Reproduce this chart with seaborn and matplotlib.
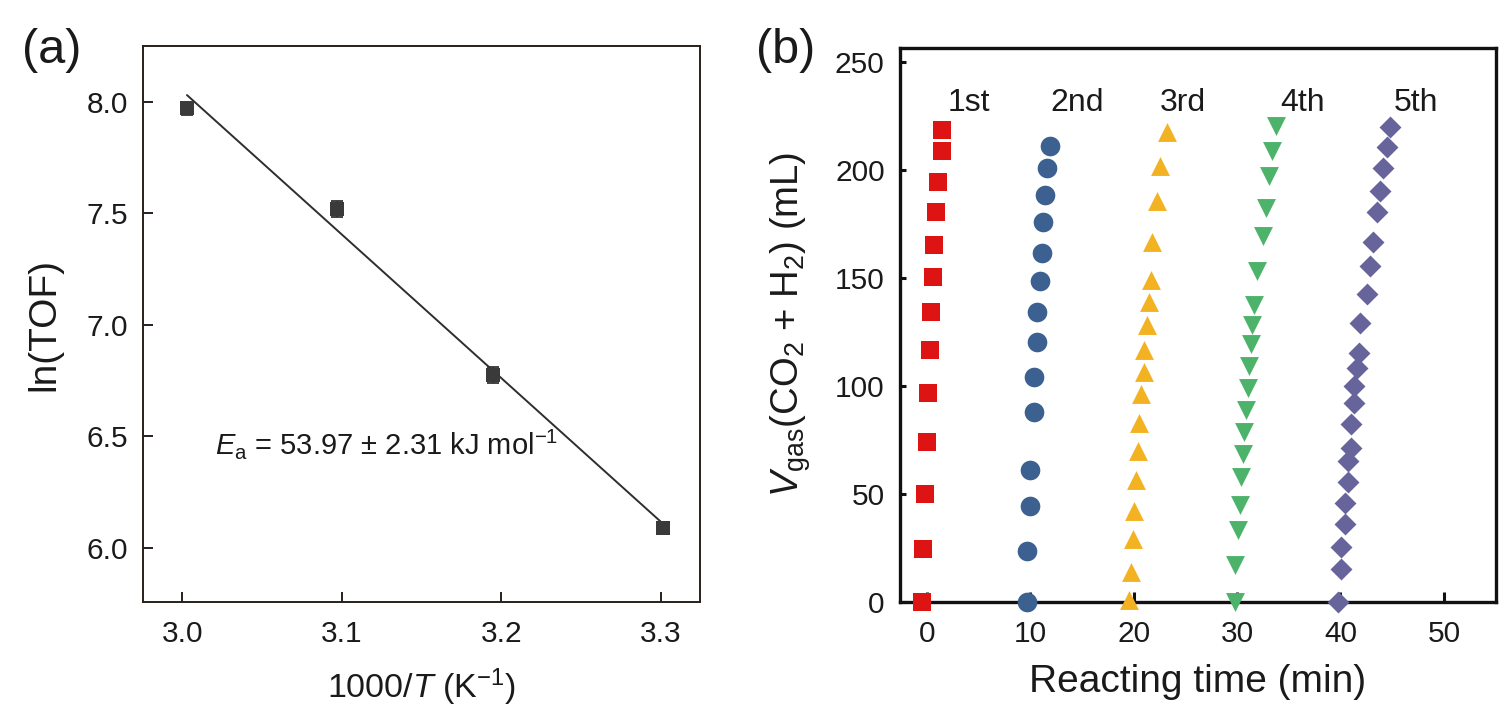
import numpy as np
import pandas as pd
import matplotlib
matplotlib.use("Agg")
import matplotlib.pyplot as plt
import seaborn as sns

# ---------------- data: panel (a) ----------------
inv_T = [3.003, 3.097, 3.195, 3.301]          # 1000/T (K^-1)
ln_tof = [7.97, 7.52, 6.775, 6.09]            # ln(TOF)
ln_tof_err = [0.030, 0.035, 0.035, 0.015]

# ---------------- data: panel (b) ----------------
cycle_names = ["1st", "2nd", "3rd", "4th", "5th"]
t1 = [-0.50, -0.35, -0.19, -0.03, 0.13, 0.29, 0.45, 0.58, 0.74, 0.90, 1.06, 1.42, 1.42]
v1 = [0, 24.3, 49.9, 74.1, 96.8, 116.6, 134.2, 150.2, 165.0, 180.3, 194.2, 208.8, 218.2]
t2 = [9.67, 9.67, 10.0, 10.0, 10.32, 10.32, 10.64, 10.64, 10.96, 11.12, 11.25, 11.44, 11.58, 11.9]
v2 = [0, 23.5, 44.3, 60.8, 88.0, 104.0, 120.3, 134.2, 148.3, 161.6, 175.8, 188.3, 200.8, 211.0]
t3 = [19.57, 19.73, 19.89, 20.05, 20.21, 20.38, 20.53, 20.70, 20.99, 20.99, 21.31, 21.47,
      21.63, 21.76, 22.24, 22.53, 23.18]
v3 = [1.0, 13.9, 28.8, 41.9, 56.3, 69.6, 82.7, 96.0, 106.4, 116.3, 128.3, 138.6,
      148.8, 166.4, 185.6, 201.6, 217.6]
t4 = [29.79, 29.79, 30.08, 30.24, 30.40, 30.53, 30.69, 30.85, 31.01, 31.17, 31.33, 31.49,
      31.62, 31.88, 32.46, 32.75, 33.08, 33.40, 33.72]
v4 = [0, 17.1, 33.1, 44.8, 57.9, 68.3, 78.6, 88.8, 99.0, 109.3, 119.5, 128.3,
      137.1, 153.1, 169.1, 182.4, 197.1, 208.8, 220.3]
t5 = [39.74, 40.07, 40.07, 40.39, 40.39, 40.68, 40.68, 41.0, 41.0, 41.32, 41.32, 41.61,
      41.77, 41.93, 42.58, 42.9, 43.19, 43.51, 43.83, 44.15, 44.48, 44.77]
v5 = [0, 15.0, 25.1, 35.8, 45.6, 55.5, 65.1, 71.0, 82.2, 91.8, 100.0, 108.3,
      115.2, 129.1, 142.2, 155.5, 166.6, 180.3, 190.2, 200.8, 210.4, 219.8]
cycle_times = [t1, t2, t3, t4, t5]
cycle_volumes = [v1, v2, v3, v4, v5]

# ---------------- styles ----------------
colors = ["#DE1414", "#3C6190", "#F3B222", "#4DB26A", "#66649A"]
markers = ["s", "o", "^", "v", "D"]
msizes = [165, 200, 185, 185, 125]
label_x = [4.1, 14.55, 24.8, 36.35, 47.35]
label_y = 227

sns.set_theme(style="ticks")
plt.rcParams["font.family"] = ["Liberation Sans", "DejaVu Sans"]
plt.rcParams["mathtext.fontset"] = "custom"
plt.rcParams["mathtext.rm"] = "Liberation Sans"
plt.rcParams["mathtext.it"] = "Liberation Sans:italic"
plt.rcParams["mathtext.bf"] = "Liberation Sans:bold"

txt = "#1a1a1a"
fig = plt.figure(figsize=(15.11, 7.28), dpi=100)

# ---------------- panel (a) ----------------
ax1 = fig.add_axes([0.0948, 0.1727, 0.3684, 0.7642])
sns.regplot(x=np.array(inv_T), y=np.array(ln_tof), ci=None, scatter=False, ax=ax1,
            line_kws=dict(color="#2e2e2e", lw=1.4))
ax1.errorbar(inv_T, ln_tof, yerr=ln_tof_err, fmt="none", ecolor="#333333",
             elinewidth=1.3, capsize=4, capthick=1.3, zorder=3)
sns.scatterplot(x=inv_T, y=ln_tof, marker="s", s=90, color="#3a3a3a",
                linewidth=0, ax=ax1, zorder=4)
ax1.set_xlim(2.9756, 3.3244)
ax1.set_ylim(5.755, 8.25)
ax1.set_xticks([3.0, 3.1, 3.2, 3.3])
ax1.set_yticks([6.0, 6.5, 7.0, 7.5, 8.0])
ax1.tick_params(direction="in", length=7, width=1.4, labelsize=21.5, colors="#2a1f1a",
                labelcolor=txt)
ax1.tick_params(axis="x", pad=13)
ax1.tick_params(axis="y", pad=11)
for s in ax1.spines.values():
    s.set_color("#2a1f1a")
    s.set_linewidth(1.4)
ax1.set_xlabel(r"1000/$\mathit{T}$ (K$^{-1}$)", fontsize=24.5, color=txt, labelpad=13)
ax1.set_ylabel("ln(TOF)", fontsize=28, color=txt, labelpad=17)
ax1.text(3.0205, 6.418, r"$\mathit{E}_{\mathrm{a}}$ = 53.97 ± 2.31 kJ mol$^{-1}$",
         fontsize=21, color=txt, ha="left", va="baseline")

# ---------------- panel (b) ----------------
ax2 = fig.add_axes([0.5956, 0.1735, 0.3942, 0.7606])
for name, tt, vv, c, m, sz, lx in zip(cycle_names, cycle_times, cycle_volumes,
                                      colors, markers, msizes, label_x):
    sns.scatterplot(x=tt, y=vv, marker=m, s=sz, color=c, linewidth=0, ax=ax2,
                    clip_on=False, zorder=4)
    ax2.text(lx, label_y, name, fontsize=23, color=txt, ha="center", va="baseline")
ax2.set_xlim(-2.6, 55.0)
ax2.set_ylim(0, 256.3)
ax2.set_xticks([0, 10, 20, 30, 40, 50])
ax2.set_yticks([0, 50, 100, 150, 200, 250])
ax2.tick_params(direction="in", labelsize=21.5, colors="#111111", labelcolor=txt)
ax2.tick_params(axis="x", length=7, width=2.2, pad=13)
ax2.tick_params(axis="y", length=4.5, width=2.2, pad=11)
for s in ax2.spines.values():
    s.set_color("#111111")
    s.set_linewidth(2.4)
ax2.set_xlabel("Reacting time (min)", fontsize=28, color=txt, labelpad=12)
ax2.set_ylabel(r"$\mathit{V}_{\mathrm{gas}}$(CO$_2$ + H$_2$) (mL)", fontsize=27.5,
               color=txt, labelpad=16)

fig.text(0.034, 0.931, "(a)", fontsize=35, color=txt, ha="center", va="center")
fig.text(0.520, 0.931, "(b)", fontsize=35, color=txt, ha="center", va="center")

fig.savefig("out.png", dpi=100)
